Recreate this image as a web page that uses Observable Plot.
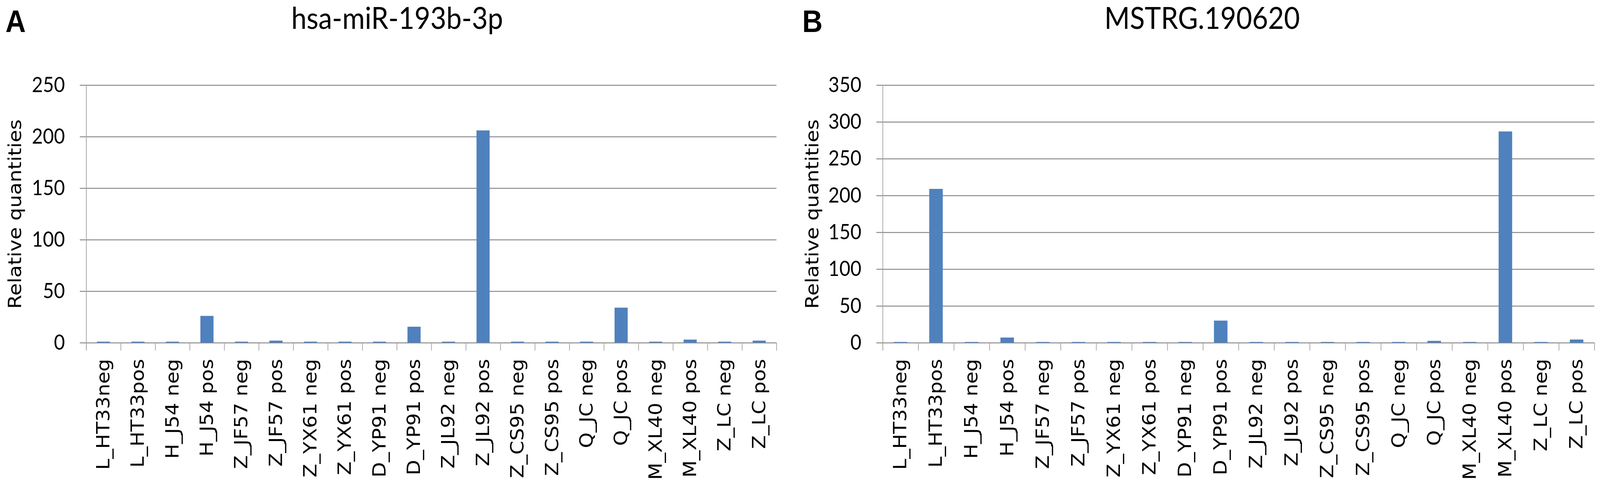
<!DOCTYPE html>
<html><head><meta charset="utf-8">
<script src="https://cdn.jsdelivr.net/npm/d3@7"></script>
<script src="https://cdn.jsdelivr.net/npm/@observablehq/plot@0.6"></script>
<style>
html,body{margin:0;padding:0;background:#fff;overflow:hidden}
#wrap{display:flex;width:100vw;height:100vh;background:#fff}
#wrap svg{display:block;width:50vw;height:100vh;flex:none}
</style>
</head><body><div id="wrap"></div>
<script>
const categories = ["L_HT33neg","L_HT33pos","H_J54 neg","H_J54 pos","Z_JF57 neg","Z_JF57 pos","Z_YX61 neg","Z_YX61 pos","D_YP91 neg","D_YP91 pos","Z_JL92 neg","Z_JL92 pos","Z_CS95 neg","Z_CS95 pos","Q_JC neg","Q_JC pos","M_XL40 neg","M_XL40 pos","Z_LC neg","Z_LC pos"];
const valuesA = [1,1,1,26,1,2,1,1,1,15.5,1,206,1,1,1,34,1,3,1,2];
const valuesB = [1,209,1,7,1,1,1,1,1,30,1,1,1,1,1,2.5,1,287,1,4.3];
const ticksA = [0,50,100,150,200,250];
const ticksB = [0,50,100,150,200,250,300,350];
const titleA = "hsa-miR-193b-3p";
const titleB = "MSTRG.190620";
const letterA = "A";
const letterB = "B";
const yLabel = "Relative quantities";

const GRID = "#8c8c8c", AX = "#a3a3a3", BAR = "#4F81BD";

function panel({values, yTicks, title, letter, ml, mr, titleDx, letterDx, ylabDx}) {
  const n = categories.length;
  const data = categories.map((c, i) => ({c, i, v: values[i]}));
  const svg = Plot.plot({
    width: 2275, height: 1258,
    marginLeft: ml, marginRight: mr, marginTop: 218, marginBottom: 380,
    style: {background: "white", fontFamily: "DejaVu Sans", overflow: "visible"},
    x: {domain: [0, n], axis: null},
    y: {domain: [0, yTicks[yTicks.length - 1]], axis: null},
    marks: [
      Plot.gridY(yTicks, {stroke: GRID, strokeOpacity: 1, strokeWidth: 2.5}),
      Plot.axisY(yTicks, {tickSize: 18, tickPadding: 43, stroke: GRID, strokeWidth: 2.5, fill: "black", fontSize: 54, fontFamily: "Lato", label: null}),
      Plot.ruleX([0], {stroke: AX, strokeWidth: 2, insetBottom: -20}),
      Plot.axisX(d3.range(n + 1), {tickSize: 20, stroke: AX, strokeWidth: 2, tickFormat: () => "", label: null}),
      Plot.axisX(d3.range(n).map(i => i + 0.5), {tickSize: 0, tickPadding: 41, tickRotate: -90, tickFormat: d => categories[Math.floor(d)], fill: "black", fontSize: 51, fontFamily: "DejaVu Sans", label: null}),
      Plot.rectY(data, {x1: d => d.i + 0.31, x2: d => d.i + 0.69, y: "v", fill: BAR}),
      Plot.text([title], {text: d => d, frameAnchor: "top", dx: titleDx, dy: -144.5, lineAnchor: "bottom", textAnchor: "middle", fontSize: 78, fontFamily: "Lato", fill: "black"}),
      Plot.text([letter], {text: d => d, frameAnchor: "top-left", dx: letterDx, dy: -137, lineAnchor: "bottom", textAnchor: "start", fontSize: 80, fontWeight: "bold", fontFamily: "Liberation Sans", fill: "black"}),
      Plot.text([yLabel], {text: d => d, frameAnchor: "left", rotate: -90, dx: ylabDx, textAnchor: "middle", lineAnchor: "middle", fontSize: 52, fontFamily: "DejaVu Sans", fill: "black"})
    ]
  });
  svg.setAttribute("preserveAspectRatio", "none");
  return svg;
}

const wrap = document.getElementById("wrap");
wrap.append(panel({values: valuesA, yTicks: ticksA, title: titleA, letter: letterA, ml: 245, mr: 67, titleDx: -97.5, letterDx: -230, ylabDx: -202}));
wrap.append(panel({values: valuesB, yTicks: ticksB, title: titleB, letter: letterB, ml: 235, mr: 16, titleDx: -104, letterDx: -229, ylabDx: -200}));
</script>
</body></html>
